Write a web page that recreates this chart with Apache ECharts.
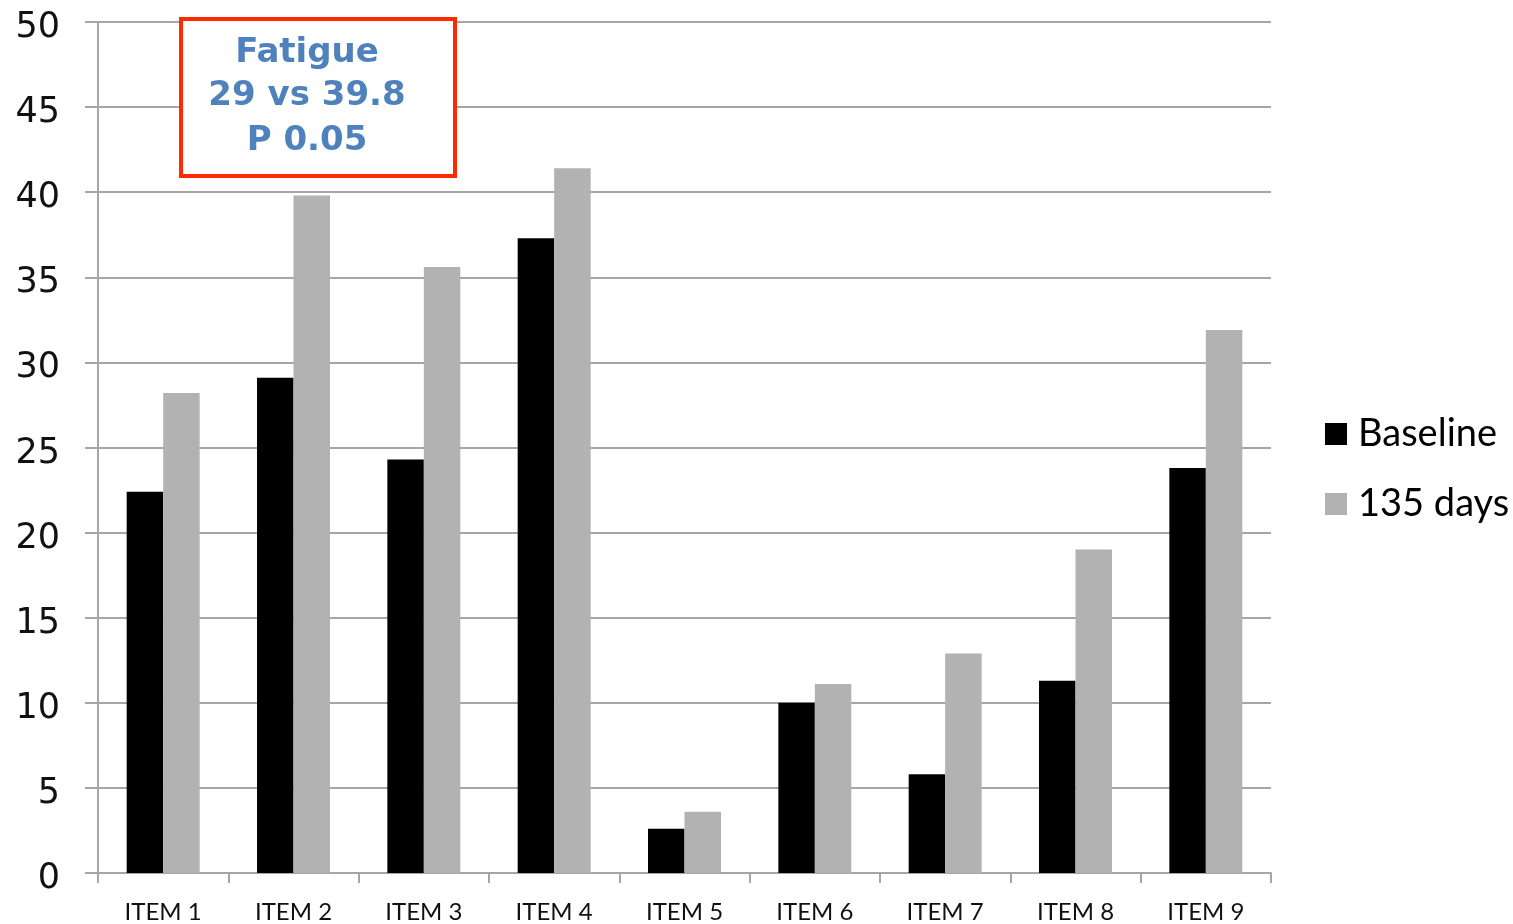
<!DOCTYPE html>
<html>
<head>
<meta charset="utf-8">
<title>Fatigue items: Baseline vs 135 days</title>
<script src="https://cdn.jsdelivr.net/npm/echarts@6/dist/echarts.min.js"></script>
<style>
  html, body { margin: 0; padding: 0; background: #ffffff; }
  #chart { width: 1513px; height: 924px; }
</style>
</head>
<body>
<div id="chart"></div>
<script>
// Item categories and series values
const categories = ['ITEM 1', 'ITEM 2', 'ITEM 3', 'ITEM 4', 'ITEM 5', 'ITEM 6', 'ITEM 7', 'ITEM 8', 'ITEM 9'];
const baseline = [22.4, 29.1, 24.3, 37.3, 2.6, 10.0, 5.8, 11.3, 23.8];
const days135 = [28.2, 39.8, 35.6, 41.4, 3.6, 11.1, 12.9, 19.0, 31.9];
const seriesNames = ['Baseline', '135 days'];
const noteLines = ['Fatigue', '29 vs 39.8', 'P 0.05'];

const chart = echarts.init(document.getElementById('chart'));

const gridColor = '#a6a6a6';
const noteFont = 'bold 34px "DejaVu Sans"';

chart.setOption({
  animation: false,
  backgroundColor: '#ffffff',
  grid: { left: 98, right: 242, top: 22, bottom: 51 },
  legend: {
    orient: 'vertical',
    left: 1320,
    top: 410,
    itemWidth: 22,
    itemHeight: 22,
    itemGap: 32,
    icon: 'rect',
    textStyle: { fontFamily: 'Lato', fontSize: 38, color: '#000000', padding: [0, 0, 0, 6] },
    data: seriesNames
  },
  xAxis: {
    type: 'category',
    data: categories,
    axisLine: { lineStyle: { color: gridColor, width: 2 } },
    axisTick: { show: true, length: 10, lineStyle: { color: gridColor, width: 2 } },
    axisLabel: { color: '#111111', fontFamily: 'Lato', fontSize: 24, margin: 27 }
  },
  yAxis: {
    type: 'value',
    min: 0,
    max: 50,
    interval: 5,
    axisLine: { show: true, lineStyle: { color: gridColor, width: 2 } },
    axisTick: { show: true, length: 13, lineStyle: { color: gridColor, width: 2 } },
    splitLine: { lineStyle: { color: gridColor, width: 2 } },
    axisLabel: {
      margin: 38,
      formatter: '{v|{value}}',
      rich: {
        v: {
          color: '#111111',
          fontFamily: 'DejaVu Sans',
          fontSize: 35,
          padding: [12, 0, 0, 0]
        }
      }
    }
  },
  series: [
    {
      name: seriesNames[0],
      type: 'bar',
      data: baseline,
      barGap: '0%',
      barCategoryGap: '44%',
      itemStyle: { color: '#000000' }
    },
    {
      name: seriesNames[1],
      type: 'bar',
      data: days135,
      barGap: '0%',
      barCategoryGap: '44%',
      itemStyle: { color: '#b2b2b2' }
    }
  ],
  graphic: [
    {
      type: 'rect',
      left: 179,
      top: 17,
      shape: { width: 274, height: 157 },
      style: { fill: '#ffffff', stroke: '#ff2a00', lineWidth: 4 },
      z: 10
    },
    {
      type: 'text',
      x: 307,
      y: 53,
      style: { text: noteLines[0], fill: '#4f81bd', font: noteFont, align: 'center', verticalAlign: 'middle' },
      z: 11
    },
    {
      type: 'text',
      x: 307,
      y: 96,
      style: { text: noteLines[1], fill: '#4f81bd', font: noteFont, align: 'center', verticalAlign: 'middle' },
      z: 11
    },
    {
      type: 'text',
      x: 307,
      y: 141,
      style: { text: noteLines[2], fill: '#4f81bd', font: noteFont, align: 'center', verticalAlign: 'middle' },
      z: 11
    }
  ]
});
</script>
</body>
</html>
